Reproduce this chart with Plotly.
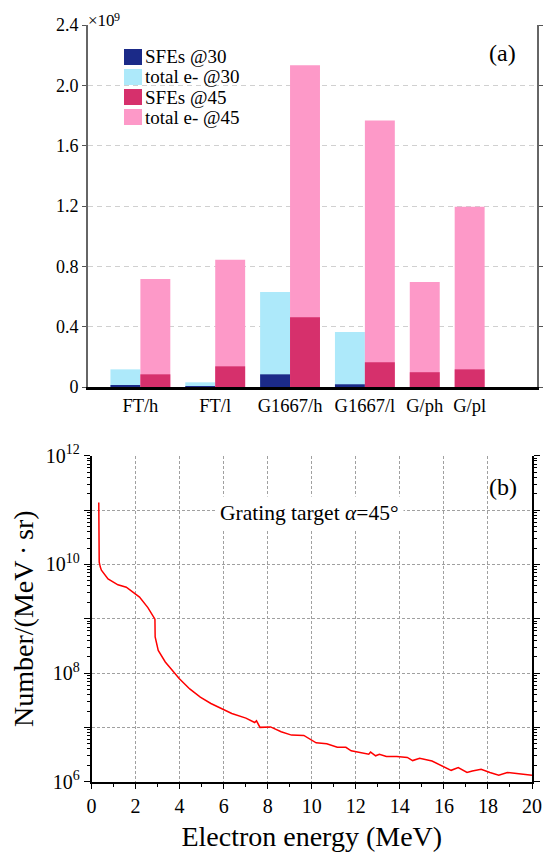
import plotly.graph_objects as go

# ---- panel (a) data ----
categories = ['FT/h', 'FT/l', 'G1667/h', 'G1667/l', 'G/ph', 'G/pl']
sfe_30 = [0.007e9, 0.001e9, 0.084e9, 0.018e9]
total_30 = [0.117e9, 0.031e9, 0.630e9, 0.364e9]
sfe_45 = [0.084e9, 0.137e9, 0.463e9, 0.164e9, 0.098e9, 0.117e9]
total_45 = [0.716e9, 0.843e9, 2.133e9, 1.767e9, 0.696e9, 1.195e9]
y_ticks_a = [0, 0.4e9, 0.8e9, 1.2e9, 1.6e9, 2.0e9, 2.4e9]
y_ticktext_a = ['0', '0.4', '0.8', '1.2', '1.6', '2.0', '2.4']

# ---- panel (b) data ----
energy = [0.33, 0.35, 0.40, 0.45, 0.75, 1.20, 1.58, 1.80, 2.18, 2.56, 2.88, 2.89,
          3.03, 3.35, 3.67, 3.98, 4.46, 4.94, 5.42, 5.98, 6.37, 7.01, 7.41, 7.49,
          7.65, 8.13, 8.61, 9.08, 9.64, 10.2, 10.68, 11.16, 11.55, 11.79, 12.27,
          12.59, 12.67, 12.9, 13.07, 13.39, 13.86, 14.34, 14.58, 14.9, 15.46,
          15.94, 16.33, 16.65, 17.05, 17.29, 17.69, 18.09, 18.49, 18.88, 19.44, 20.0]
number = [1.38e11, 1.1e10, 8.9e9, 7.8e9, 5.4e9, 4.2e9, 3.8e9, 3.3e9, 2.5e9, 1.6e9,
          9.8e8, 4.6e8, 2.6e8, 1.6e8, 1.12e8, 7.9e7, 5.1e7, 3.6e7, 2.75e7, 2.1e7,
          1.8e7, 1.48e7, 1.23e7, 1.32e7, 1.0e7, 1.02e7, 8.3e6, 7.2e6, 7.1e6, 5.2e6,
          5.0e6, 4.3e6, 4.3e6, 3.7e6, 3.4e6, 3.2e6, 3.5e6, 3.0e6, 3.2e6, 2.9e6,
          2.9e6, 2.8e6, 2.45e6, 2.7e6, 2.4e6, 1.9e6, 1.62e6, 1.82e6, 1.48e6,
          1.58e6, 1.7e6, 1.48e6, 1.32e6, 1.48e6, 1.41e6, 1.32e6]
y_ticks_b = [1e6, 1e7, 1e8, 1e9, 1e10, 1e11, 1e12]
y_ticktext_b = ['10<sup>6</sup>', '', '10<sup>8</sup>', '', '10<sup>10</sup>', '', '10<sup>12</sup>']

COLOURS = {
    'sfe30': '#1b2a88',
    'tot30': '#ade9fa',
    'sfe45': '#d6306c',
    'tot45': '#fd99c8',
}
FONT = 'Liberation Serif, Times New Roman, serif'

# the page body keeps its default 8px margin, so the figure is made that much
# smaller and everything is positioned in window pixels minus that offset
PAGE_W, PAGE_H = 553, 852
BODY = 8
W, H = PAGE_W - BODY, PAGE_H - BODY

# slot layout on the (a) axis: pairs, then two single bars
cat_x = [1.4, 3.4, 5.4, 7.4, 9.0, 10.2]
bar_w = 0.8
off_30 = -bar_w
off_45 = [0, 0, 0, 0, -bar_w / 2, -bar_w / 2]


def serif(size):
    return dict(family=FONT, size=size, color='black')


def px_x(v):
    return (v - BODY) / W


def px_y(v):
    return 1 - (v - BODY) / H


fig = go.Figure()

fig.add_trace(go.Bar(x=cat_x[:4], y=total_30, width=bar_w, offset=off_30,
                     marker=dict(color=COLOURS['tot30'], line=dict(width=0)),
                     name='total e- @30', xaxis='x', yaxis='y'))
fig.add_trace(go.Bar(x=cat_x, y=total_45, width=bar_w, offset=off_45,
                     marker=dict(color=COLOURS['tot45'], line=dict(width=0)),
                     name='total e- @45', xaxis='x', yaxis='y'))
fig.add_trace(go.Bar(x=cat_x[:4], y=sfe_30, width=bar_w, offset=off_30,
                     marker=dict(color=COLOURS['sfe30'], line=dict(width=0)),
                     name='SFEs @30', xaxis='x', yaxis='y'))
fig.add_trace(go.Bar(x=cat_x, y=sfe_45, width=bar_w, offset=off_45,
                     marker=dict(color=COLOURS['sfe45'], line=dict(width=0)),
                     name='SFEs @45', xaxis='x', yaxis='y'))

fig.add_trace(go.Scatter(x=energy, y=number, mode='lines',
                         line=dict(color='#ff0000', width=1.5),
                         xaxis='x2', yaxis='y2', name='spectrum'))

dom_xa = [px_x(88), px_x(537)]
dom_ya = [px_y(387), px_y(25)]
dom_xb = [px_x(91.5), px_x(532)]
dom_yb = [px_y(781.7), px_y(455.7)]

minor_b = [m * 10 ** e for e in range(6, 12) for m in range(2, 10)]

fig.update_layout(
    width=W, height=H,
    margin=dict(l=0, r=0, t=0, b=0, autoexpand=False),
    paper_bgcolor='white', plot_bgcolor='white',
    font=serif(18),
    barmode='overlay',
    showlegend=False,
    xaxis=dict(domain=dom_xa, anchor='y', range=[0, 12], automargin=False,
               tickmode='array', tickvals=cat_x, ticktext=categories,
               ticks='', showgrid=False, zeroline=False,
               showline=True, linecolor='black', linewidth=2.5,
               tickfont=serif(18.5)),
    xaxis3=dict(domain=dom_xa, anchor='y', overlaying='x', side='top',
                range=[0, 12], tickmode='array', tickvals=list(range(1, 12)),
                ticks='inside', ticklen=5, tickcolor='black', automargin=False,
                showticklabels=False, showgrid=False, zeroline=False,
                showline=True, linecolor='black', linewidth=1.5),
    yaxis=dict(domain=dom_ya, anchor='x', range=[0, 2.4e9], automargin=False,
               tickmode='array', tickvals=y_ticks_a, ticktext=y_ticktext_a,
               ticks='outside', ticklen=4, tickcolor='#555',
               showgrid=True, gridcolor='#d0d0d0', griddash='5px,4px', gridwidth=1,
               zeroline=False, showline=True, linecolor='#666', linewidth=2,
               mirror='ticks', tickfont=serif(18)),
    xaxis2=dict(domain=dom_xb, anchor='y2', range=[0, 20], automargin=False,
                tick0=0, dtick=2, ticks='outside', ticklen=6, tickcolor='black',
                minor=dict(dtick=1, ticks='outside', ticklen=4, tickcolor='black'),
                showgrid=True, gridcolor='#a0a0a0', griddash='3px,2px', gridwidth=1,
                zeroline=False, showline=True, linecolor='black', linewidth=1.5,
                tickfont=serif(20),
                title=dict(text='Electron energy (MeV)', font=serif(28), standoff=14)),
    xaxis4=dict(domain=dom_xb, anchor='y2', overlaying='x2', side='top',
                range=[0, 20], tick0=0, dtick=2, ticks='inside', ticklen=6,
                tickcolor='black', automargin=False,
                minor=dict(dtick=1, ticks='inside', ticklen=4, tickcolor='black'),
                showticklabels=False, showgrid=False, zeroline=False,
                showline=True, linecolor='black', linewidth=1.5),
    yaxis2=dict(domain=dom_yb, anchor='x2', type='log', range=[6, 12],
                automargin=False,
                tickmode='array', tickvals=y_ticks_b, ticktext=y_ticktext_b,
                ticks='outside', ticklen=6, tickcolor='black',
                minor=dict(tickmode='array', tickvals=minor_b, ticks='outside',
                           ticklen=3, tickcolor='black', showgrid=False),
                showgrid=True, gridcolor='#a0a0a0', griddash='3px,2px', gridwidth=1,
                zeroline=False, showline=True, linecolor='black', linewidth=1.5,
                mirror='ticks', tickfont=serif(20),
                title=dict(text='Number/(MeV\u2009·\u2009sr)', font=serif(28), standoff=6)),
)

# manual legend for panel (a)
legend_items = [('SFEs @30', COLOURS['sfe30']), ('total e- @30', COLOURS['tot30']),
                ('SFEs @45', COLOURS['sfe45']), ('total e- @45', COLOURS['tot45'])]
for i, (label, colour) in enumerate(legend_items):
    yc = 57 + 20 * i
    fig.add_shape(type='rect', xref='paper', yref='paper',
                  x0=px_x(124), x1=px_x(142), y0=px_y(yc + 8), y1=px_y(yc - 8),
                  fillcolor=colour, line=dict(width=0))
    fig.add_annotation(text=label, xref='paper', yref='paper',
                       x=px_x(142.5), y=px_y(yc), xanchor='left', yanchor='middle',
                       showarrow=False, font=serif(19))

# axis multiplier, split so the exponent is not clipped at the top edge
fig.add_annotation(text='×10', xref='paper', yref='paper',
                   x=px_x(87), y=px_y(20), xanchor='left', yanchor='middle',
                   showarrow=False, font=serif(17), borderpad=0)
fig.add_annotation(text='9', xref='paper', yref='paper',
                   x=px_x(113), y=px_y(16.5), xanchor='left', yanchor='middle',
                   showarrow=False, font=serif(12), borderpad=0)
fig.add_annotation(text='(a)', xref='paper', yref='paper',
                   x=px_x(502), y=px_y(53), xanchor='center', yanchor='middle',
                   showarrow=False, font=serif(24))
fig.add_annotation(text='(b)', xref='paper', yref='paper',
                   x=px_x(503), y=px_y(487), xanchor='center', yanchor='middle',
                   showarrow=False, font=serif(24))
fig.add_annotation(text='Grating target <i>α</i>=45°', xref='paper', yref='paper',
                   x=px_x(309), y=px_y(513), xanchor='center', yanchor='middle',
                   showarrow=False, font=serif(21.5), bgcolor='white', borderpad=4)

fig.write_html("out.html")
